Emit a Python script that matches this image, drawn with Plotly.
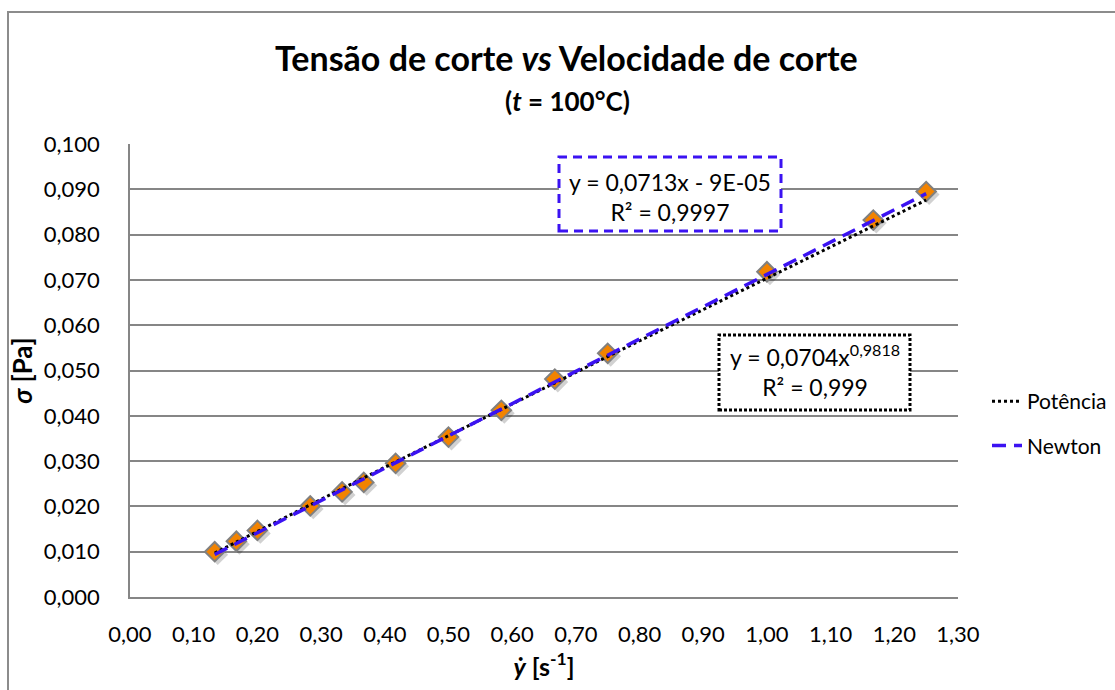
import numpy as np
import plotly.graph_objects as go

# ---- data ----
shear_rate = [0.133, 0.167, 0.200, 0.283, 0.333, 0.367, 0.417, 0.500,
              0.583, 0.667, 0.750, 1.000, 1.167, 1.250]
shear_stress = [0.0100, 0.0123, 0.0147, 0.0201, 0.0232, 0.0253, 0.0295, 0.0353,
                0.0412, 0.0481, 0.0538, 0.0718, 0.0832, 0.0895]

# trendline coefficients (as displayed on the chart)
lin_slope, lin_intercept = 0.0713, -0.00009
pow_coef, pow_exp = 0.0704, 0.9818

series_names = ["Potência", "Newton"]
lin_label = ["y = 0,0713x - 9E-05", "R² = 0,9997"]
pow_label = ["y = 0,0704x<sup>0,9818</sup>", "R² = 0,999"]

FONT = "Lato"
W, H = 1115, 690
L, R, T, B = 130, 157, 144, 93

xs = np.array(shear_rate)
xfit = np.linspace(xs.min(), xs.max(), 120)
y_lin = lin_slope * xfit + lin_intercept
y_pow = pow_coef * xfit ** pow_exp

fig = go.Figure()

# soft shadow under markers
px_x = 1.3 / (W - L - R)
px_y = 0.1 / (H - T - B)
fig.add_trace(go.Scatter(
    x=xs + 3 * px_x, y=np.array(shear_stress) - 3 * px_y, mode="markers",
    marker=dict(symbol="diamond", size=16, color="rgba(0,0,0,0.18)",
                line=dict(width=0)),
    showlegend=False, hoverinfo="skip"))

fig.add_trace(go.Scatter(
    x=shear_rate, y=shear_stress, mode="markers", name="Dados",
    marker=dict(symbol="diamond", size=15, color="#F28300",
                line=dict(color="#808080", width=2)),
    showlegend=False))

fig.add_trace(go.Scatter(
    x=xfit, y=y_pow, mode="lines", name=series_names[0], legendgroup="p",
    line=dict(color="#000000", width=3, dash="3px,3px")))

fig.add_trace(go.Scatter(
    x=xfit, y=y_lin, mode="lines", name=series_names[1], legendgroup="n",
    line=dict(color="#3B12F2", width=3.5, dash="14px,8px")))

def px2x(p):
    return (p - L) / (W - L - R) * 1.3

def py2y(p):
    return (H - B - p) / (H - T - B) * 0.1

def ppx(p):
    return (p - L) / (W - L - R)

def ppy(p):
    return (H - B - p) / (H - T - B)

shapes = [
    # outer chart border
    dict(type="rect", xref="paper", yref="paper",
         x0=ppx(8), x1=2.0, y0=-1.0, y1=ppy(12),
         line=dict(color="#8C8C8C", width=2), layer="below"),
    # Newton label box
    dict(type="rect", xref="x", yref="y",
         x0=px2x(559), x1=px2x(781), y0=py2y(231), y1=py2y(157),
         line=dict(color="#3B12F2", width=3, dash="9px,6px"),
         fillcolor="white", layer="above"),
    # Potencia label box
    dict(type="rect", xref="x", yref="y",
         x0=px2x(719), x1=px2x(910), y0=py2y(410), y1=py2y(335),
         line=dict(color="#000000", width=3, dash="3px,2px"),
         fillcolor="white", layer="above"),
]

annotations = [
    dict(text="<b>Tensão de corte <i>vs</i> Velocidade de corte</b>",
         xref="paper", yref="paper", x=ppx(566), y=ppy(58),
         xanchor="center", yanchor="middle", showarrow=False,
         font=dict(family=FONT, size=34, color="black")),
    dict(text="<b>(<i>t</i> = 100°C)</b>",
         xref="paper", yref="paper", x=ppx(567), y=ppy(101),
         xanchor="center", yanchor="middle", showarrow=False,
         font=dict(family=FONT, size=26, color="black")),
    dict(text="<br>".join(lin_label), xref="x", yref="y",
         x=px2x(670), y=py2y(197), xanchor="center", yanchor="middle",
         showarrow=False, align="center",
         font=dict(family=FONT, size=23, color="black")),
    dict(text="<br>".join(pow_label), xref="x", yref="y",
         x=px2x(815), y=py2y(370), xanchor="center", yanchor="middle",
         showarrow=False, align="center",
         font=dict(family=FONT, size=23, color="black")),
]

fig.update_layout(
    width=W, height=H,
    margin=dict(l=L, r=R, t=T, b=B, pad=0, autoexpand=False),
    paper_bgcolor="white", plot_bgcolor="white",
    separators=",.",
    font=dict(family=FONT, size=22, color="black"),
    shapes=shapes, annotations=annotations,
    showlegend=True,
    legend=dict(x=ppx(987), xanchor="left",
                y=ppy(381), yanchor="top",
                tracegroupgap=14, bgcolor="rgba(0,0,0,0)",
                font=dict(family=FONT, size=21, color="black")),
    xaxis=dict(range=[0, 1.3], dtick=0.1, tick0=0, tickformat=".2f",
               showgrid=False, zeroline=False, showline=True,
               linecolor="#868686", linewidth=1.5, ticks="",
               automargin=False,
               ticklabelstandoff=17, tickfont=dict(size=22),
               title=dict(text="<b><i>ẏ</i> [s<sup>-1</sup>]</b>", standoff=12,
                          font=dict(family=FONT, size=25))),
    yaxis=dict(range=[0, 0.1], dtick=0.01, tick0=0, tickformat=".3f",
               showgrid=True, gridcolor="#868686", gridwidth=1.5,
               zeroline=False, showline=True, linecolor="#868686",
               linewidth=1.5, ticks="", ticklabelstandoff=24,
               automargin=False, tickfont=dict(size=22),
               title=dict(text="<b><i>σ</i> [Pa]</b>", standoff=4,
                          font=dict(family=FONT, size=26))),
)

fig.write_html("out.html")
